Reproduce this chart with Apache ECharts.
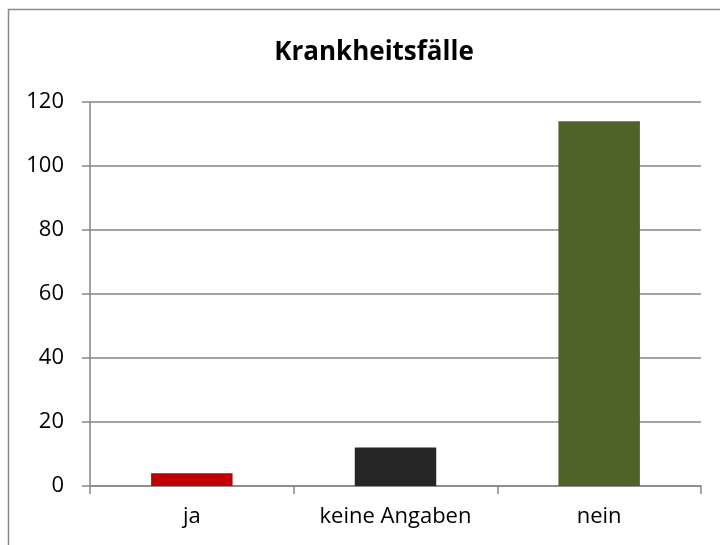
<html>
<head>
<meta charset="utf-8" />
<script src="https://cdn.jsdelivr.net/npm/echarts@6/dist/echarts.min.js"></script>
<style>
  body { margin: 0; overflow: hidden; background: #fff; }
  #chart { width: 720px; height: 545px; }
</style>
</head>
<body>
<div id="chart"></div>
<script type="text/javascript">
    var categories = ['ja', 'keine Angaben', 'nein'];
    var values = [4, 12, 114];
    var barColors = ['#C00000', '#262626', '#4F6228'];
    var yTicks = [0, 20, 40, 60, 80, 100, 120];

    var font = '"Open Sans", "Noto Sans", sans-serif';
    var chart = echarts.init(document.getElementById('chart'), null, { renderer: 'canvas' });

    var option = {
        animation: false,
        backgroundColor: '#fff',
        title: {
            text: 'Krankheitsfälle',
            left: 369,
            textAlign: 'center',
            top: 35,
            textStyle: { fontFamily: font, fontSize: 26, fontWeight: 'bold', color: '#000' }
        },
        graphic: [{
            type: 'rect',
            shape: { x: 8.5, y: 9.5, width: 800, height: 700 },
            style: { fill: 'none', stroke: '#8a8a8a', lineWidth: 1.5 },
            silent: true
        }],
        grid: { left: 90, right: 19, top: 102, bottom: 59, containLabel: false },
        xAxis: {
            type: 'category',
            data: categories,
            boundaryGap: true,
            axisLine: { lineStyle: { color: '#868686', width: 1.5 } },
            axisTick: { show: true, interval: 0, length: 8, lineStyle: { color: '#868686', width: 1.5 } },
            axisLabel: { interval: 0, hideOverlap: false, margin: 20, fontFamily: font, fontSize: 22, color: '#000' }
        },
        yAxis: {
            type: 'value',
            min: yTicks[0],
            max: yTicks[yTicks.length - 1],
            interval: 20,
            axisLine: { show: true, lineStyle: { color: '#868686', width: 1.5 } },
            axisTick: { show: true, length: 8, lineStyle: { color: '#868686', width: 1.5 } },
            splitLine: { show: true, lineStyle: { color: '#868686', width: 1.5 } },
            axisLabel: { margin: 26, fontFamily: font, fontSize: 22, color: '#000' }
        },
        series: [{
            type: 'bar',
            barWidth: '40%',
            data: values.map(function(v, i) {
                return { value: v, itemStyle: { color: barColors[i] } };
            })
        }]
    };
    chart.setOption(option);
</script>
</body>
</html>
